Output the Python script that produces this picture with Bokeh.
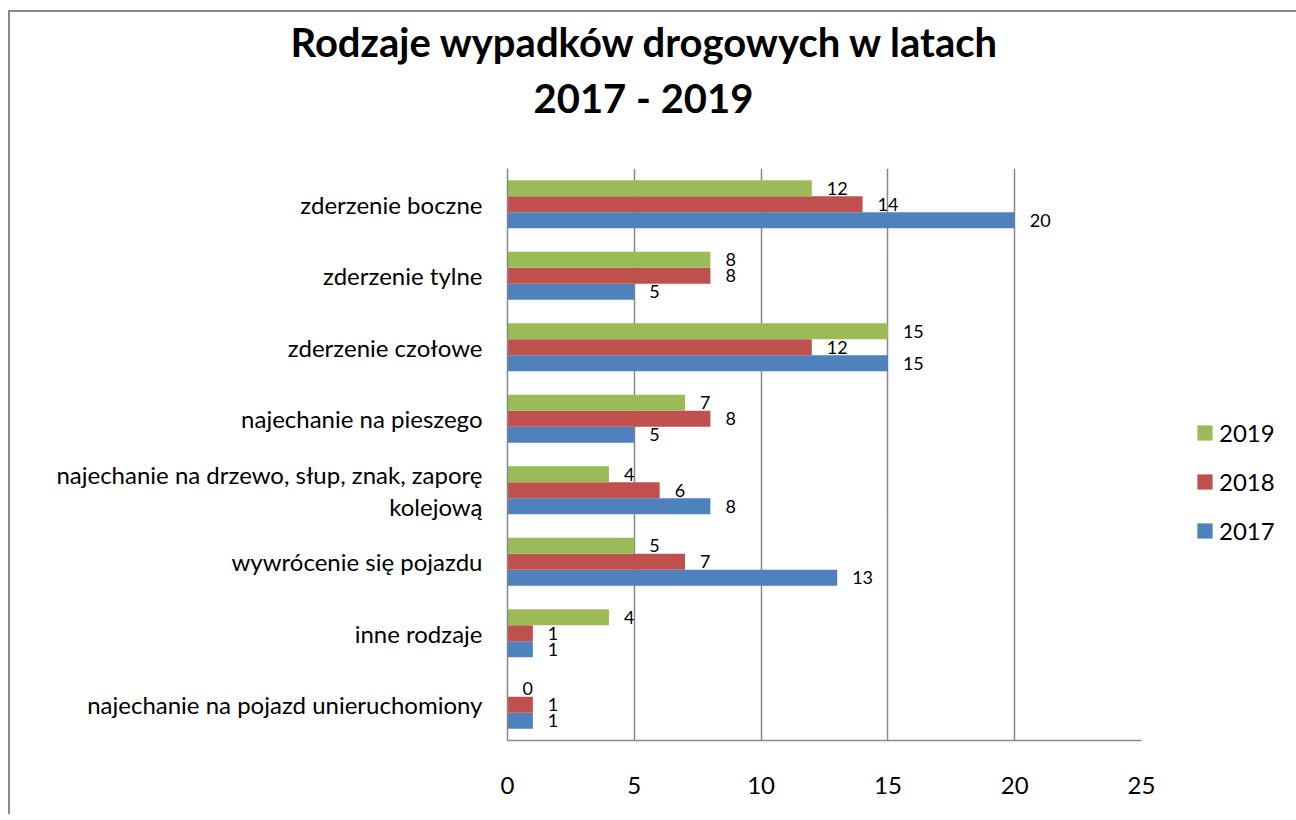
from bokeh.plotting import figure
from bokeh.models import (ColumnDataSource, FactorRange, Range1d, LabelSet, Title,
                          Legend, LegendItem, FixedTicker)
from bokeh.transform import dodge
from bokeh.core.properties import value
from bokeh.embed import file_html
from bokeh.resources import INLINE

# ---- data (bottom-to-top category order, as in the source spreadsheet) ----
CATEGORIES = [
    "najechanie na pojazd unieruchomiony",
    "inne rodzaje",
    "wywrócenie się pojazdu",
    "najechanie na drzewo, słup, znak, zaporę\nkolejową",
    "najechanie na pieszego",
    "zderzenie czołowe",
    "zderzenie tylne",
    "zderzenie boczne",
]
VALUES_2017 = [1, 1, 13, 8, 5, 15, 5, 20]
VALUES_2018 = [1, 1, 7, 6, 8, 12, 8, 14]
VALUES_2019 = [0, 4, 5, 4, 7, 15, 8, 12]
SERIES = ["2017", "2018", "2019"]
X_TICKS = [0, 5, 10, 15, 20, 25]
TITLE_LINES = ["Rodzaje wypadków drogowych w latach", "2017 - 2019"]

COLORS = {"2017": "#4F81BD", "2018": "#C0504D", "2019": "#9BBB59"}
FONT = "Lato"
GRID = "#888888"

source = ColumnDataSource(dict(
    cat=CATEGORIES,
    v2017=VALUES_2017, v2018=VALUES_2018, v2019=VALUES_2019,
    t2017=[str(v) for v in VALUES_2017],
    t2018=[str(v) for v in VALUES_2018],
    t2019=[str(v) for v in VALUES_2019],
))

p = figure(width=1276, height=802, frame_width=634, frame_height=572,
           y_range=FactorRange(*CATEGORIES, range_padding=0),
           x_range=Range1d(0, 25),
           output_backend="svg", toolbar_location=None,
           min_border_left=497, min_border_right=145,
           min_border_top=156, min_border_bottom=74)
p.styles = {"margin-left": "8px", "margin-top": "10px",
            "border-left": "2px solid #8c8c8c", "border-top": "2px solid #8c8c8c"}
p.outline_line_color = None
p.background_fill_color = "white"
p.border_fill_color = "white"

bar_h = 0.224
offsets = {"2017": -bar_h, "2018": 0.0, "2019": bar_h}
renderers = {}
for s in SERIES:
    r = p.hbar(y=dodge("cat", offsets[s], range=p.y_range), right="v" + s, left=0,
               height=bar_h, source=source, fill_color=COLORS[s], line_color=None)
    renderers[s] = r
    p.add_layout(LabelSet(x="v" + s, y=dodge("cat", offsets[s], range=p.y_range),
                          text="t" + s, source=source, x_offset=15,
                          text_baseline="middle", text_align="left",
                          text_font=value(FONT), text_font_size=value("18px"),
                          text_color="black"))

# grid
p.xgrid.ticker = FixedTicker(ticks=X_TICKS)
p.xgrid.grid_line_color = GRID
p.xgrid.grid_line_width = 1.5
p.ygrid.grid_line_color = None

# x axis
xa = p.xaxis[0]
xa.ticker = FixedTicker(ticks=X_TICKS)
xa.axis_line_color = GRID
xa.axis_line_width = 1.5
xa.major_tick_line_color = None
xa.minor_tick_line_color = None
xa.major_tick_out = 0
xa.major_tick_in = 0
xa.major_label_standoff = 36
xa.major_label_text_font = FONT
xa.major_label_text_font_size = "24px"
xa.major_label_text_color = "black"

# y axis
ya = p.yaxis[0]
ya.axis_line_color = GRID
ya.axis_line_width = 1.5
ya.major_tick_line_color = None
ya.minor_tick_line_color = None
ya.major_tick_out = 0
ya.major_tick_in = 0
ya.major_label_standoff = 25
ya.major_label_text_font = FONT
ya.major_label_text_font_size = "24px"
ya.major_label_text_color = "black"
ya.major_label_text_line_height = 1.1

# legend (in the right-hand panel, outside the plotting frame)
legend = Legend(items=[LegendItem(label=s, renderers=[renderers[s]]) for s in reversed(SERIES)],
                location=(54, 195), orientation="vertical",
                glyph_width=19, glyph_height=19, label_height=22, spacing=20,
                label_standoff=5, padding=0, margin=0,
                border_line_color=None, background_fill_alpha=0,
                label_text_font=FONT, label_text_font_size="24px", label_text_color="black")
p.add_layout(legend, "right")

# title: spacer nearest the frame, then the two title lines, each centred on the chart
p.add_layout(Title(text=" ", standoff=0, text_font=FONT, text_font_size="35px"), "above")
for txt, off in zip(reversed(TITLE_LINES), [26, -217]):
    p.add_layout(Title(text=txt, align="left", offset=off, standoff=6,
                       text_font=FONT, text_font_style="bold", text_font_size="40px",
                       text_color="black"), "above")

open("out.html", "w").write(file_html(p, INLINE))
